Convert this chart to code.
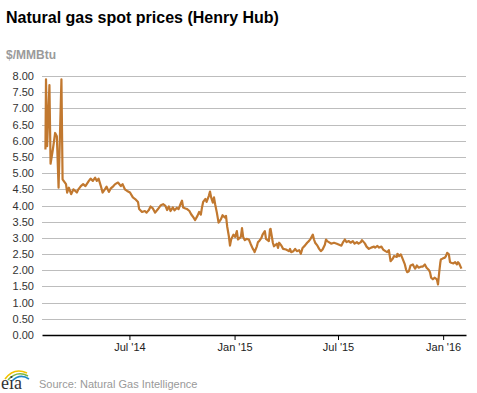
<!DOCTYPE html>
<html>
<head>
<meta charset="utf-8">
<script src="https://cdn.jsdelivr.net/npm/d3@7"></script>
<style>
  body { margin: 0; background: #fff; }
  svg { display: block; font-family: Arial, "Liberation Sans", sans-serif; }
</style>
</head>
<body>
<div id="chart"></div>
<script>
// Data (Henry Hub spot, $/MMBtu)
const dates = [
  "2014-02-04","2014-02-05","2014-02-07","2014-02-11","2014-02-13","2014-02-17","2014-02-21","2014-02-24","2014-02-27","2014-03-04",
  "2014-03-06","2014-03-12","2014-03-14","2014-03-17","2014-03-21","2014-03-25","2014-03-31","2014-04-02","2014-04-07","2014-04-11",
  "2014-04-15","2014-04-21","2014-04-24","2014-04-28","2014-05-02","2014-05-05","2014-05-08","2014-05-12","2014-05-15","2014-05-19",
  "2014-05-22","2014-05-26","2014-05-29","2014-06-03","2014-06-06","2014-06-11","2014-06-16","2014-06-19","2014-06-23","2014-06-27",
  "2014-07-02","2014-07-07","2014-07-11","2014-07-16","2014-07-18","2014-07-23","2014-07-28","2014-07-31","2014-08-04","2014-08-07",
  "2014-08-11","2014-08-15","2014-08-20","2014-08-25","2014-08-29","2014-09-02","2014-09-05","2014-09-08","2014-09-11","2014-09-15",
  "2014-09-18","2014-09-22","2014-09-25","2014-09-29","2014-10-01","2014-10-03","2014-10-07","2014-10-10","2014-10-14","2014-10-17",
  "2014-10-21","2014-10-24","2014-10-28","2014-10-31","2014-11-03","2014-11-05","2014-11-07","2014-11-11","2014-11-13","2014-11-17",
  "2014-11-19","2014-11-21","2014-11-24","2014-11-26","2014-11-28","2014-12-01","2014-12-04","2014-12-08","2014-12-11","2014-12-15",
  "2014-12-17","2014-12-19","2014-12-22","2014-12-24","2014-12-26","2014-12-30","2015-01-02","2015-01-05","2015-01-07","2015-01-12",
  "2015-01-14","2015-01-16","2015-01-19","2015-01-22","2015-01-26","2015-01-29","2015-02-02","2015-02-04","2015-02-05","2015-02-09",
  "2015-02-11","2015-02-13","2015-02-17","2015-02-19","2015-02-23","2015-02-25","2015-03-02","2015-03-04","2015-03-05","2015-03-09",
  "2015-03-11","2015-03-16","2015-03-18","2015-03-20","2015-03-24","2015-03-27","2015-04-01","2015-04-06","2015-04-08","2015-04-10",
  "2015-04-14","2015-04-17","2015-04-20","2015-04-24","2015-04-27","2015-04-30","2015-05-04","2015-05-08","2015-05-11","2015-05-14",
  "2015-05-18","2015-05-20","2015-05-22","2015-05-26","2015-05-29","2015-06-01","2015-06-04","2015-06-08","2015-06-10","2015-06-12",
  "2015-06-15","2015-06-19","2015-06-24","2015-06-29","2015-07-03","2015-07-07","2015-07-10","2015-07-13","2015-07-16","2015-07-20",
  "2015-07-23","2015-07-27","2015-07-30","2015-08-03","2015-08-06","2015-08-10","2015-08-12","2015-08-17","2015-08-20","2015-08-24",
  "2015-08-28","2015-09-02","2015-09-04","2015-09-08","2015-09-11","2015-09-15","2015-09-18","2015-09-22","2015-09-25","2015-09-28",
  "2015-10-01","2015-10-05","2015-10-07","2015-10-12","2015-10-13","2015-10-16","2015-10-19","2015-10-22","2015-10-26","2015-10-28",
  "2015-10-30","2015-11-02","2015-11-05","2015-11-09","2015-11-11","2015-11-13","2015-11-16","2015-11-19","2015-11-23","2015-11-26",
  "2015-11-30","2015-12-03","2015-12-07","2015-12-09","2015-12-11","2015-12-14","2015-12-17","2015-12-21","2015-12-23","2015-12-25",
  "2015-12-27","2015-12-28","2015-12-31","2016-01-04","2016-01-06","2016-01-08","2016-01-11","2016-01-13","2016-01-15","2016-01-19",
  "2016-01-22","2016-01-25","2016-01-27","2016-01-29","2016-02-02"
];
const prices = [
  5.73,7.90,5.83,7.72,5.29,5.73,6.24,6.14,4.55,7.90,
  4.81,4.66,4.40,4.55,4.35,4.50,4.40,4.48,4.60,4.66,
  4.60,4.76,4.83,4.76,4.86,4.76,4.83,4.60,4.40,4.50,
  4.58,4.42,4.52,4.60,4.66,4.71,4.60,4.66,4.50,4.45,
  4.40,4.25,4.20,4.11,3.89,3.80,3.83,3.78,3.86,3.97,
  3.91,3.78,3.89,4.01,4.04,3.99,3.86,3.97,3.83,3.94,
  3.85,3.93,3.89,4.07,4.15,3.94,3.91,3.89,3.83,3.73,
  3.63,3.55,3.68,3.80,3.72,3.94,4.11,4.20,4.11,4.30,
  4.43,4.25,4.09,4.25,4.04,3.78,3.47,3.57,3.70,3.63,
  3.68,3.36,3.05,2.76,2.95,3.10,3.03,3.21,2.95,3.03,
  3.30,3.03,2.93,2.97,2.95,2.82,2.66,2.61,2.56,2.74,
  2.87,2.90,3.00,3.10,3.21,2.97,2.90,3.26,3.28,2.85,
  2.74,2.82,2.69,2.85,2.76,2.66,2.64,2.59,2.66,2.56,
  2.59,2.66,2.59,2.62,2.51,2.69,2.76,2.85,2.90,2.97,
  3.10,2.95,2.85,2.76,2.66,2.59,2.64,2.79,2.95,2.90,
  2.87,2.82,2.85,2.82,2.79,2.76,2.87,2.95,2.87,2.90,
  2.85,2.90,2.82,2.87,2.82,2.87,2.93,2.83,2.73,2.66,
  2.70,2.73,2.70,2.75,2.70,2.73,2.64,2.59,2.56,2.62,
  2.28,2.36,2.44,2.41,2.51,2.44,2.49,2.36,2.18,2.03,
  1.94,1.97,2.15,2.18,2.11,2.05,2.15,2.08,2.11,2.11,
  2.18,2.08,2.01,1.94,1.77,1.72,1.77,1.72,1.56,1.92,
  2.23,2.33,2.36,2.39,2.44,2.54,2.49,2.25,2.23,2.21,
  2.25,2.18,2.25,2.21,2.05
];
const yTicks = [0, 0.5, 1, 1.5, 2, 2.5, 3, 3.5, 4, 4.5, 5, 5.5, 6, 6.5, 7, 7.5, 8];
const xTickDates = ["2014-07-01", "2015-01-01", "2015-07-01", "2016-01-01"];
const xTickLabels = ["Jul '14", "Jan '15", "Jul '15", "Jan '16"];
const xDomain = ["2014-01-29", "2016-02-10"];

const parseDate = d3.timeParse("%Y-%m-%d");
const dataset = dates.map((d, i) => ({ date: parseDate(d), value: prices[i] }));
const xAccessor = (d) => d.date;
const yAccessor = (d) => d.value;

// Dimensions
let dimensions = {
  width: 477,
  height: 393,
  left: 42,
  right: 466,
  top: 76,
  bottom: 335,
};

const svg = d3
  .select("#chart")
  .append("svg")
  .attr("width", dimensions.width)
  .attr("height", dimensions.height);

// Scales
const xScale = d3
  .scaleTime()
  .domain(xDomain.map(parseDate))
  .range([dimensions.left, dimensions.right]);

const yScale = d3
  .scaleLinear()
  .domain([0, 8])
  .range([dimensions.bottom, dimensions.top]);

// Title
svg
  .append("text")
  .attr("x", 6)
  .attr("y", 23)
  .style("font-size", "16px")
  .style("font-weight", "bold")
  .style("fill", "#000")
  .text("Natural gas spot prices (Henry Hub)");

svg
  .append("text")
  .attr("x", 6)
  .attr("y", 59)
  .style("font-size", "12px")
  .style("font-weight", "bold")
  .style("fill", "#9a9a9a")
  .text("$/MMBtu");

// Y axis + gridlines
const yAxis = d3
  .axisLeft(yScale)
  .tickValues(yTicks)
  .tickFormat(d3.format(".2f"))
  .tickSize(-(dimensions.right - dimensions.left))
  .tickPadding(8);

const gYAxis = svg
  .append("g")
  .attr("transform", `translate(${dimensions.left},0)`)
  .call(yAxis);

gYAxis.select(".domain").remove();
gYAxis
  .selectAll(".tick line")
  .attr("stroke", "#bdbdbd")
  .attr("shape-rendering", "crispEdges");
gYAxis
  .selectAll(".tick text")
  .style("font-size", "11px")
  .style("font-family", "Arial, 'Liberation Sans', sans-serif")
  .style("fill", "#333");
gYAxis.selectAll(".tick").filter((d) => d === 0).select("line").remove();

// X axis
const xAxis = d3
  .axisBottom(xScale)
  .tickValues(xTickDates.map(parseDate))
  .tickFormat((d, i) => xTickLabels[i])
  .tickSize(5)
  .tickSizeOuter(0)
  .tickPadding(3);

const gXAxis = svg
  .append("g")
  .attr("transform", `translate(0,${dimensions.bottom})`)
  .call(xAxis);

gXAxis.select(".domain").attr("stroke", "#000").attr("stroke-width", 1.5);
gXAxis.selectAll(".tick line").attr("stroke", "#000");
gXAxis
  .selectAll(".tick text")
  .style("font-size", "11px")
  .style("font-family", "Arial, 'Liberation Sans', sans-serif")
  .style("fill", "#222");

// Line
const lineGenerator = d3
  .line()
  .x((d) => xScale(xAccessor(d)))
  .y((d) => yScale(yAccessor(d)));

svg
  .append("path")
  .datum(dataset)
  .attr("d", lineGenerator)
  .attr("fill", "none")
  .attr("stroke", "#c1782f")
  .attr("stroke-width", 2.2)
  .attr("stroke-linejoin", "round");

// Footer: eia logo + source
const logo = svg.append("g");
logo
  .append("path")
  .attr("d", "M5,379 Q14,367 27,373")
  .attr("fill", "none")
  .attr("stroke", "#f3c300")
  .attr("stroke-width", 1.6);
logo
  .append("path")
  .attr("d", "M8,380 Q17,370 28,376")
  .attr("fill", "none")
  .attr("stroke", "#7ab648")
  .attr("stroke-width", 1.6);
logo
  .append("path")
  .attr("d", "M12,381 Q20,373 29,379")
  .attr("fill", "none")
  .attr("stroke", "#1e88c7")
  .attr("stroke-width", 1.6);
logo
  .append("text")
  .attr("x", 1)
  .attr("y", 389)
  .style("font-family", "'Liberation Serif', 'DejaVu Serif', serif")
  .style("font-size", "18px")
  .style("fill", "#333")
  .text("eia");

svg
  .append("text")
  .attr("x", 39)
  .attr("y", 388)
  .style("font-size", "11px")
  .style("fill", "#999")
  .text("Source: Natural Gas Intelligence");
</script>
</body>
</html>
